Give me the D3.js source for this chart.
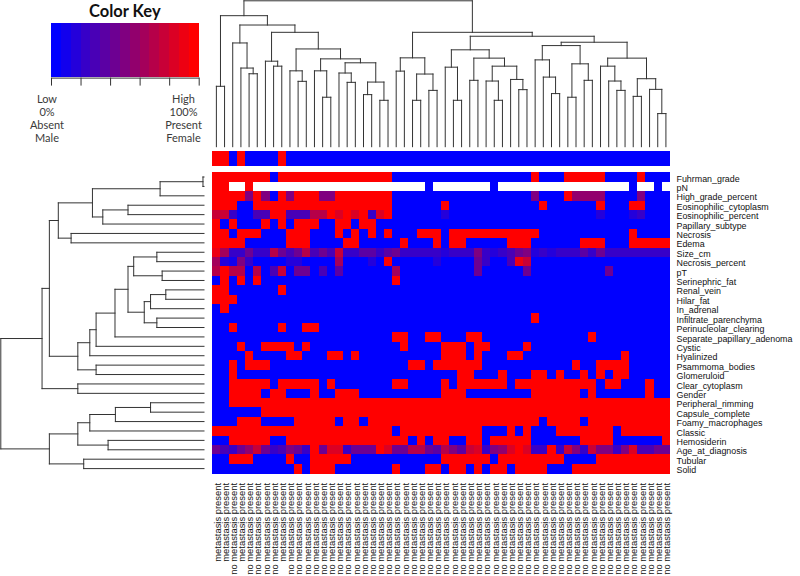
<!DOCTYPE html>
<html>
<head>
<meta charset="utf-8">
<script src="https://d3js.org/d3.v7.min.js"></script>
<style>
body { margin: 0; background: #fff; }
</style>
</head>
<body>
<svg id="vis"></svg>
<script>
// row order as in the picture (top to bottom)
var rowNames = ['Fuhrman_grade', 'pN', 'High_grade_percent', 'Eosinophilic_cytoplasm',
    'Eosinophilic_percent', 'Papillary_subtype', 'Necrosis', 'Edema', 'Size_cm',
    'Necrosis_percent', 'pT', 'Serinephric_fat', 'Renal_vein', 'Hilar_fat', 'In_adrenal',
    'Infiltrate_parenchyma', 'Perinucleolar_clearing', 'Separate_papillary_adenoma', 'Cystic',
    'Hyalinized', 'Psammoma_bodies', 'Glomeruloid', 'Clear_cytoplasm', 'Gender',
    'Peripheral_rimming', 'Capsule_complete', 'Foamy_macrophages', 'Classic', 'Hemosiderin',
    'Age_at_diagnosis', 'Tubular', 'Solid'];

// 1 = metastasis present, 0 = no metastasis present (column order)
var metastasis = [1,1,0,1,0,0,0,0, 1,0,0,0,0,0,0,0, 0,0,0,0,0,0,0,0, 0,0,0,0,0,0,0,0, 0,0,0,0,0,0,0,0, 0,0,0,0,0,0,0,0, 0,0,0,0,0,0,0,0];

// scaled values, 0 = low/absent/male, 1 = high/present/female, null = missing
var fuhrmanGrade = [1,1,1,1,1,1,1,0, 1,1,1,1,1,1,1,1, 1,1,1,1,1,1,0,0, 0,0,0,0,0,0,0,0, 0,0,0,0,0,0,0,1, 0,0,0,1,1,1,1,1, 0,0,0,0,1,0,0,0];
var pN = [1,1,null,null,1,null,null,null, null,null,null,null,null,null,null,null, null,null,null,null,null,null,null,null, null,null,0,null,null,null,null,null, null,null,0,null,null,null,null,null, null,null,null,null,null,null,null,null, null,null,null,0,null,null,0,null];
var highGradePercent = [1,1,1,1,0.5,1,0.5,0, 1,0.5,1,1,1,0.5,0.5,1, 1,1,1,1,1,1,0,0, 0,0,0,0,0,0,0,0, 0,0,0,0,0,0,0,0.5, 0,0,0,1,0.55,0.55,0.55,0.55, 0,0,0,0,0.5,0,0,0];
var eosinophilicCytoplasm = [1,1,1,0,0,1,1,1, 1,1,1,1,1,1,1,1, 1,1,1,1,1,1,0,0, 0,0,0,0,1,0,0,0, 0,0,0,0,0,0,0,0, 1,0,0,0,0,0,0,1, 0,0,0,1,1,0,0,0];
var eosinophilicPercent = [0.75,0.75,0.25,0,0,0.3,0.3,1, 1,0.3,0.3,0.3,0.7,0.7,1,0.85, 1,0.85,1,0.2,0.8,1,0,0, 0,0,0,0,0.15,0,0,0, 0,0,0,0,0,0,0,0, 0,0,0,0,0,0,0,0.15, 0,0,0,0.15,0.2,0,0,0];
var papillarySubtype = [1,0,1,0,0,0,1,0, 1,0,1,1,1,0,0,1, 1,0,1,1,0,0,0,0, 0,0,0,0,0,0,0,0, 0,0,0,0,0,0,0,0, 0,0,0,0,0,0,0,0, 0,0,0,0,0,0,0,0];
var necrosis = [1,1,0,1,1,1,0,0, 0,1,1,1,0,0,0,1, 0,1,0,1,0,1,0,0, 0,1,1,1,0,1,1,1, 1,1,1,1,1,1,1,1, 0,0,0,0,0,0,0,0, 0,0,0,1,0,0,0,0];
var edema = [1,1,1,1,0,0,0,0, 0,1,1,1,0,0,0,0, 1,1,0,0,0,0,0,1, 0,0,0,1,0,1,1,0, 0,0,0,0,1,1,1,0, 0,0,0,0,0,1,1,1, 0,0,0,1,1,1,1,1];
var sizeCm = [0.9,0.65,0.25,0.25,0.4,0.2,0.2,0.7, 0.4,0.3,0.45,0.7,0.3,0.45,0.3,0.75, 0.2,0.2,0.35,0.35,0.25,0.35,0.4,0.25, 0.2,0.25,0.2,0.25,0.15,0.2,0.2,0.25, 0.5,0.2,0.15,0.2,0.3,0.45,0.5,0.15, 0.2,0.15,0.2,0.2,0.25,0.35,0.2,0.4, 0.2,0.2,0.2,0.2,0.2,0.25,0.25,0.25];
var necrosisPercent = [0.65,0.15,0.1,0.5,0.2,0.05,0.05,0.05, 0.05,0.15,0.15,0.05,0.05,0.05,0.05,0.6, 0,0,0,0.15,0,1,0,0, 0,0,0,0.15,0,0,0,0, 0.4,0.2,0,0,0.3,0.9,0.75,0, 0,0,0,0,0,0,0,0, 0,0,0,0,0,0,0,0];
var pT = [0.7,1,0.7,0.7,0,0.7,0,0.3, 0.75,0,0.4,0.4,0,0.3,0,0.35, 0,0,0,0,0,0,0.65,0, 0,0,0,0,0,0,0,0, 0.4,0,0,0,0,0,0.4,0, 0,0,0,0,0,0,0,0, 0.4,0,0,0,0,0,0,0];
var serinephricFat = [0,1,0,1,0,1,0,0, 0,0,0,0,0,0,0,0, 0,0,0,0,0,0,1,0, 0,0,0,0,0,0,0,0, 0,0,0,0,0,0,0,0, 0,0,0,0,0,0,0,0, 0,0,0,0,0,0,0,0];
var renalVein = [1,1,0,0,0,0,0,0, 1,0,0,0,0,0,0,0, 0,0,0,0,0,0,0,0, 0,0,0,0,0,0,0,0, 0,0,0,0,0,0,0,0, 0,0,0,0,0,0,0,0, 0,0,0,0,0,0,0,0];
var hilarFat = [1,1,1,0,0,0,0,0, 0,0,0,0,0,0,0,0, 0,0,0,0,0,0,0,0, 0,0,0,0,0,0,0,0, 0,0,0,0,0,0,0,0, 0,0,0,0,0,0,0,0, 0,0,0,0,0,0,0,0];
var inAdrenal = [0,1,0,0,0,0,0,0, 0,0,0,0,0,0,0,0, 0,0,0,0,0,0,0,0, 0,0,0,0,0,0,0,0, 0,0,0,0,0,0,0,0, 0,0,0,0,0,0,0,0, 0,0,0,0,0,0,0,0];
var infiltrateParenchyma = [0,0,0,0,0,0,0,0, 0,0,0,0,0,0,0,0, 0,0,0,0,0,0,0,0, 0,0,0,0,0,0,0,0, 0,0,0,0,0,0,0,1, 0,0,0,0,0,0,0,0, 0,0,0,0,0,0,0,0];
var perinucleolarClearing = [0,0,1,0,0,0,0,0, 1,0,0,1,1,0,0,0, 0,0,0,0,0,0,0,0, 0,0,0,0,0,0,0,0, 0,0,0,0,0,0,0,0, 0,0,0,0,0,0,0,0, 0,0,0,0,0,0,0,0];
var separatePapillaryAdenoma = [0,0,0,0,0,0,0,0, 0,0,0,0,0,0,0,0, 0,0,0,0,0,0,1,1, 0,0,1,1,0,0,0,1, 1,0,0,0,0,0,0,0, 0,0,0,0,0,0,1,0, 0,0,0,0,0,0,0,0];
var cystic = [0,0,0,1,0,0,1,1, 1,1,0,1,0,0,0,0, 0,0,0,0,0,0,0,1, 0,0,0,0,1,1,1,0, 1,1,0,0,0,0,1,0, 0,0,0,0,0,0,0,0, 0,0,0,0,0,0,0,0];
var hyalinized = [0,0,0,0,1,0,0,0, 0,1,1,0,0,0,1,1, 0,1,0,0,0,0,0,0, 0,0,0,0,1,1,1,0, 1,0,0,0,1,1,0,0, 0,0,0,0,0,0,0,0, 0,0,1,0,0,0,0,0];
var psammomaBodies = [0,0,1,0,1,1,1,0, 0,0,0,0,0,0,0,0, 0,0,0,0,0,0,0,0, 1,1,0,1,1,1,1,1, 1,0,0,0,0,0,0,0, 0,0,0,0,1,0,0,1, 1,1,1,0,0,0,0,0];
var glomeruloid = [0,0,1,0,0,0,0,0, 0,0,0,0,0,0,0,0, 0,0,0,0,0,0,0,0, 0,0,0,0,0,0,1,1, 0,0,0,1,0,0,0,1, 1,0,1,0,0,1,0,1, 0,1,1,0,0,0,0,0];
var clearCytoplasm = [0,0,1,1,1,1,1,0, 1,1,1,1,1,0,1,0, 0,0,0,0,0,0,1,1, 0,0,0,0,1,0,1,1, 1,1,1,1,0,1,1,1, 1,1,1,1,1,1,1,0, 1,1,0,0,0,1,0,0];
var gender = [0,0,1,1,1,1,0,1, 1,0,0,0,1,0,0,1, 1,1,0,0,0,0,0,0, 0,0,0,0,1,1,1,0, 0,0,0,0,0,0,0,1, 1,1,1,1,1,0,1,0, 0,0,0,0,0,1,0,0];
var peripheralRimming = [0,0,1,1,1,1,1,1, 1,1,1,1,1,1,1,1, 1,1,1,1,1,1,1,1, 1,1,1,1,1,1,1,1, 1,1,1,1,1,1,1,1, 1,1,1,1,1,1,1,1, 1,1,1,1,1,1,1,1];
var capsuleComplete = [0,0,0,0,0,0,1,1, 1,1,1,1,1,1,1,1, 1,1,1,1,1,1,1,1, 1,1,1,1,1,1,1,1, 1,1,1,1,1,1,1,1, 1,1,1,1,1,1,1,1, 1,1,1,1,1,1,1,1];
var foamyMacrophages = [0,0,0,1,1,1,0,0, 0,0,1,1,1,1,1,0, 1,1,0,1,1,1,1,1, 1,1,1,1,1,1,1,1, 1,1,1,1,1,1,1,1, 0,1,1,1,1,0,1,1, 1,1,1,1,1,1,1,1];
var classic = [1,1,1,1,1,1,1,1, 1,1,1,1,1,1,1,1, 1,1,1,1,1,1,0,1, 1,1,1,1,1,1,1,1, 1,0,0,0,1,0,1,0, 0,0,1,1,1,1,1,1, 1,0,1,1,1,1,1,1];
var hemosiderin = [0,0,1,1,1,1,1,0, 0,1,1,1,1,1,1,1, 1,1,1,1,1,1,1,1, 0,1,0,1,1,0,0,1, 1,0,1,1,1,1,1,0, 0,0,0,0,0,1,1,1, 1,0,0,0,0,0,0,1];
var ageAtDiagnosis = [0.45,0.3,0.25,0.45,0.55,0.75,0.4,0.25, 0.3,0.5,0.45,0.25,1,0.45,0.8,0.85, 0.2,0.45,0.45,0.45,1,0.8,0.45,0.45, 0.7,0.7,0.45,0.35,0.7,0.5,0.35,0.75, 0.8,0.25,0.5,0.55,0.85,0.95,0.8,0.2, 0.25,1,0.2,0.75,0.5,0.2,0.75,0.5, 0.5,0.25,0.5,0.8,0.3,0.3,0.45,0.45];
var tubular = [0,0,1,1,1,0,0,0, 0,1,0,0,1,1,1,1, 1,0,0,0,0,0,0,0, 0,0,0,0,1,1,1,1, 1,1,0,1,1,1,1,1, 1,1,1,0,0,0,0,1, 1,1,1,1,1,1,1,1];
var solid = [0,0,0,0,0,0,0,0, 0,0,1,0,1,1,1,0, 0,0,0,0,0,0,1,0, 0,0,1,1,0,1,1,0, 1,0,1,1,0,1,1,1, 1,0,0,0,1,1,1,1, 1,1,1,1,1,1,1,1];

var matrix = [fuhrmanGrade, pN, highGradePercent, eosinophilicCytoplasm, eosinophilicPercent,
    papillarySubtype, necrosis, edema, sizeCm, necrosisPercent, pT, serinephricFat, renalVein,
    hilarFat, inAdrenal, infiltrateParenchyma, perinucleolarClearing, separatePapillaryAdenoma,
    cystic, hyalinized, psammomaBodies, glomeruloid, clearCytoplasm, gender, peripheralRimming,
    capsuleComplete, foamyMacrophages, classic, hemosiderin, ageAtDiagnosis, tubular, solid];
</script>
<script>
// clustering in hclust "merge" form: negative = leaf number (1-based), positive = earlier merge step
var colMergeA = [-1,-5,-4,-3,-8,-7,-11,-10,-14,-13,-17,-16,-19,-21,13,12,10,8,6,4,1,-23,-25,-27,23,22,-30,-29,-32,-35,-34,-38,-37,31,29,28,-42,-41,-40,-44,-46,40,39,-50,-49,-48,-52,-55,-54,47,46,43,36,26,21];
var colMergeB = [-2,-6,2,3,-9,5,-12,7,-15,9,-18,11,-20,-22,14,15,16,17,18,19,20,-24,-26,-28,24,25,-31,27,-33,-36,30,-39,32,33,34,35,-43,37,38,-45,-47,41,42,-51,44,45,-53,-56,48,49,50,51,52,53,54];
var colMergeHeight = [41.4,50,53.9,71.1,55.2,58.6,44.8,52,33.9,52,44.1,50.5,35.7,31.8,44.3,57.5,60.2,67,78.4,83.4,89.8,51.8,31.8,38.6,49.8,60.9,31.8,54.5,45.5,31.8,45,39.1,46.1,55.2,60.7,66.4,36.4,47.7,59.5,33.9,45.5,56.8,69.3,38.6,45,55.2,34.5,22.7,39.3,46.6,60.7,71.6,75.7,78.4,100];

var rowMergeA = [-1,1,-4,3,2,-7,5,-9,-11,8,-13,11,-16,12,10,15,16,17,-21,18,7,-23,21,-25,24,25,-29,26,-31,28,23];
var rowMergeB = [-2,-3,-5,-6,4,-8,6,-10,-12,9,-14,-15,-17,13,14,-18,-19,-20,-22,19,20,-24,22,-26,-27,-28,-30,27,-32,29,30];
var rowMergeHeight = [0.5,21.6,37.4,49.8,54.9,65.4,71.7,23.2,20.6,34.6,18.8,26.3,23.2,29.4,37.4,43.8,53.1,56.2,53.1,62.1,76.1,62.1,79.7,26.3,43.6,56.2,47.2,62.1,59.2,76.1,100];

var keyLow = ['Low', '0%', 'Absent', 'Male'];
var keyHigh = ['High', '100%', 'Present', 'Female'];
var keyTicks = [0, 0.2, 0.4, 0.6, 0.8, 1];
</script>
<script>
var plotWidth = 800;
var plotHeight = 576;
var svg = d3.select('#vis')
            .attr('width', plotWidth)
            .attr('height', plotHeight);

var nCols = metastasis.length;
var nRows = rowNames.length;
var nBins = 15;
var palette = d3.range(nBins).map(function(i) {
    return d3.interpolateRgb('#0000ff', '#ff0000')(i / (nBins - 1));
});
var color = d3.scaleQuantize().domain([0, 1]).range(palette);
var lineColor = '#333';


function main() {
    var x = d3.scaleBand().domain(d3.range(nCols)).range([212.3, 670]);
    var y = d3.scaleBand().domain(d3.range(nRows)).range([172.3, 473.3]);

    drawHeatmap(x, y);
    drawSideBar(x);
    drawColDendrogram(x);
    drawRowDendrogram(y);
    drawLabels(x, y);
    drawKey();
}


function drawHeatmap(x, y) {
    var cells = [];
    matrix.forEach(function(row, r) {
        row.forEach(function(v, c) {
            cells.push({row: r, col: c, value: v});
        });
    });
    svg.append('g')
        .attr('shape-rendering', 'crispEdges')
        .selectAll('rect')
        .data(cells)
        .join('rect')
        .attr('x', function(d) { return x(d.col); })
        .attr('y', function(d) { return y(d.row); })
        .attr('width', x.bandwidth() + 0.3)
        .attr('height', y.bandwidth() + 0.3)
        .attr('fill', function(d) { return d.value === null ? '#ffffff' : color(d.value); });
}


function drawSideBar(x) {
    svg.append('g')
        .attr('shape-rendering', 'crispEdges')
        .selectAll('rect')
        .data(metastasis)
        .join('rect')
        .attr('x', function(d, i) { return x(i); })
        .attr('y', 151)
        .attr('width', x.bandwidth() + 0.3)
        .attr('height', 14.7)
        .attr('fill', function(d) { return d ? '#ff0000' : '#0000ff'; });
}


// turn merge steps into segments; leaves sit on the band scale, a node at its children's midpoint
function dendroSegments(mergeA, mergeB, heights, pos) {
    var nodes = [];
    var segs = [];
    function get(id) {
        return id < 0 ? {p: pos(-id - 1), h: 0} : nodes[id - 1];
    }
    for (var k = 0; k < heights.length; k++) {
        var a = get(mergeA[k]);
        var b = get(mergeB[k]);
        var n = {p: (a.p + b.p) / 2, h: heights[k]};
        segs.push([a.p, a.h, a.p, n.h]);
        segs.push([a.p, n.h, b.p, n.h]);
        segs.push([b.p, n.h, b.p, b.h]);
        nodes.push(n);
    }
    return segs;
}


function drawColDendrogram(x) {
    var hScale = d3.scaleLinear().domain([0, 100]).range([146.7, 0.8]);
    var segs = dendroSegments(colMergeA, colMergeB, colMergeHeight,
        function(i) { return x(i) + x.bandwidth() / 2; });
    svg.append('g')
        .selectAll('line')
        .data(segs)
        .join('line')
        .attr('x1', function(d) { return d[0]; })
        .attr('y1', function(d) { return hScale(d[1]); })
        .attr('x2', function(d) { return d[2]; })
        .attr('y2', function(d) { return hScale(d[3]); })
        .attr('stroke', lineColor)
        .attr('stroke-width', 1)
        .attr('stroke-linecap', 'square');
}


function drawRowDendrogram(y) {
    var hScale = d3.scaleLinear().domain([0, 100]).range([204, 0.8]);
    var segs = dendroSegments(rowMergeA, rowMergeB, rowMergeHeight,
        function(i) { return y(i) + y.bandwidth() / 2; });
    svg.append('g')
        .selectAll('line')
        .data(segs)
        .join('line')
        .attr('x1', function(d) { return hScale(d[1]); })
        .attr('y1', function(d) { return d[0]; })
        .attr('x2', function(d) { return hScale(d[3]); })
        .attr('y2', function(d) { return d[2]; })
        .attr('stroke', lineColor)
        .attr('stroke-width', 1)
        .attr('stroke-linecap', 'square');
}


function drawLabels(x, y) {
    svg.append('g')
        .selectAll('text')
        .data(rowNames)
        .join('text')
        .attr('x', 676.5)
        .attr('y', function(d, i) { return y(i) + y.bandwidth() / 2 + 4.6; })
        .style('font-family', '"Liberation Sans", Arial, sans-serif')
        .style('font-size', '8.9px')
        .attr('fill', '#111')
        .text(function(d) { return d; });

    var colLabels = metastasis.map(function(m) { return m ? 'metastasis present' : 'no metastasis present'; });
    svg.append('g')
        .selectAll('text')
        .data(colLabels)
        .join('text')
        .attr('transform', function(d, i) {
            return 'translate(' + (x(i) + x.bandwidth() / 2) + ',483) rotate(-90)';
        })
        .attr('dy', '0.45em')
        .attr('text-anchor', 'end')
        .style('font-family', '"Liberation Sans", Arial, sans-serif')
        .style('font-size', '9.4px')
        .attr('fill', '#111')
        .text(function(d) { return d; });
}


function drawKey() {
    var kx = d3.scaleLinear().domain([0, 1]).range([51, 198.7]);
    var key = svg.append('g');

    key.append('g')
        .attr('shape-rendering', 'crispEdges')
        .selectAll('rect')
        .data(palette)
        .join('rect')
        .attr('x', function(d, i) { return kx(i / nBins); })
        .attr('y', 23.3)
        .attr('width', function(d, i) { return kx((i + 1) / nBins) - kx(i / nBins) + 0.3; })
        .attr('height', 54)
        .attr('fill', function(d) { return d; });

    var axis = key.append('g')
        .attr('transform', 'translate(0,77.6)')
        .call(d3.axisBottom(kx).tickValues(keyTicks).tickSize(8).tickSizeOuter(0).tickFormat(''));
    axis.select('.domain').attr('stroke', lineColor);
    axis.selectAll('.tick line').attr('stroke', lineColor);

    key.append('text')
        .attr('x', 124.8)
        .attr('y', 16.6)
        .attr('text-anchor', 'middle')
        .style('font-family', 'Lato, sans-serif')
        .style('font-weight', 'bold')
        .style('font-size', '16.5px')
        .attr('fill', '#111')
        .text('Color Key');

    function addLines(lines, cx) {
        key.append('g')
            .selectAll('text')
            .data(lines)
            .join('text')
            .attr('x', cx)
            .attr('y', function(d, i) { return 103.3 + i * 12.9; })
            .attr('text-anchor', 'middle')
            .style('font-family', 'Lato, sans-serif')
            .style('font-size', '11px')
            .attr('fill', '#3a3a3a')
            .text(function(d) { return d; });
    }
    addLines(keyLow, 47);
    addLines(keyHigh, 183.5);
}


main()
</script>
</body>
</html>
